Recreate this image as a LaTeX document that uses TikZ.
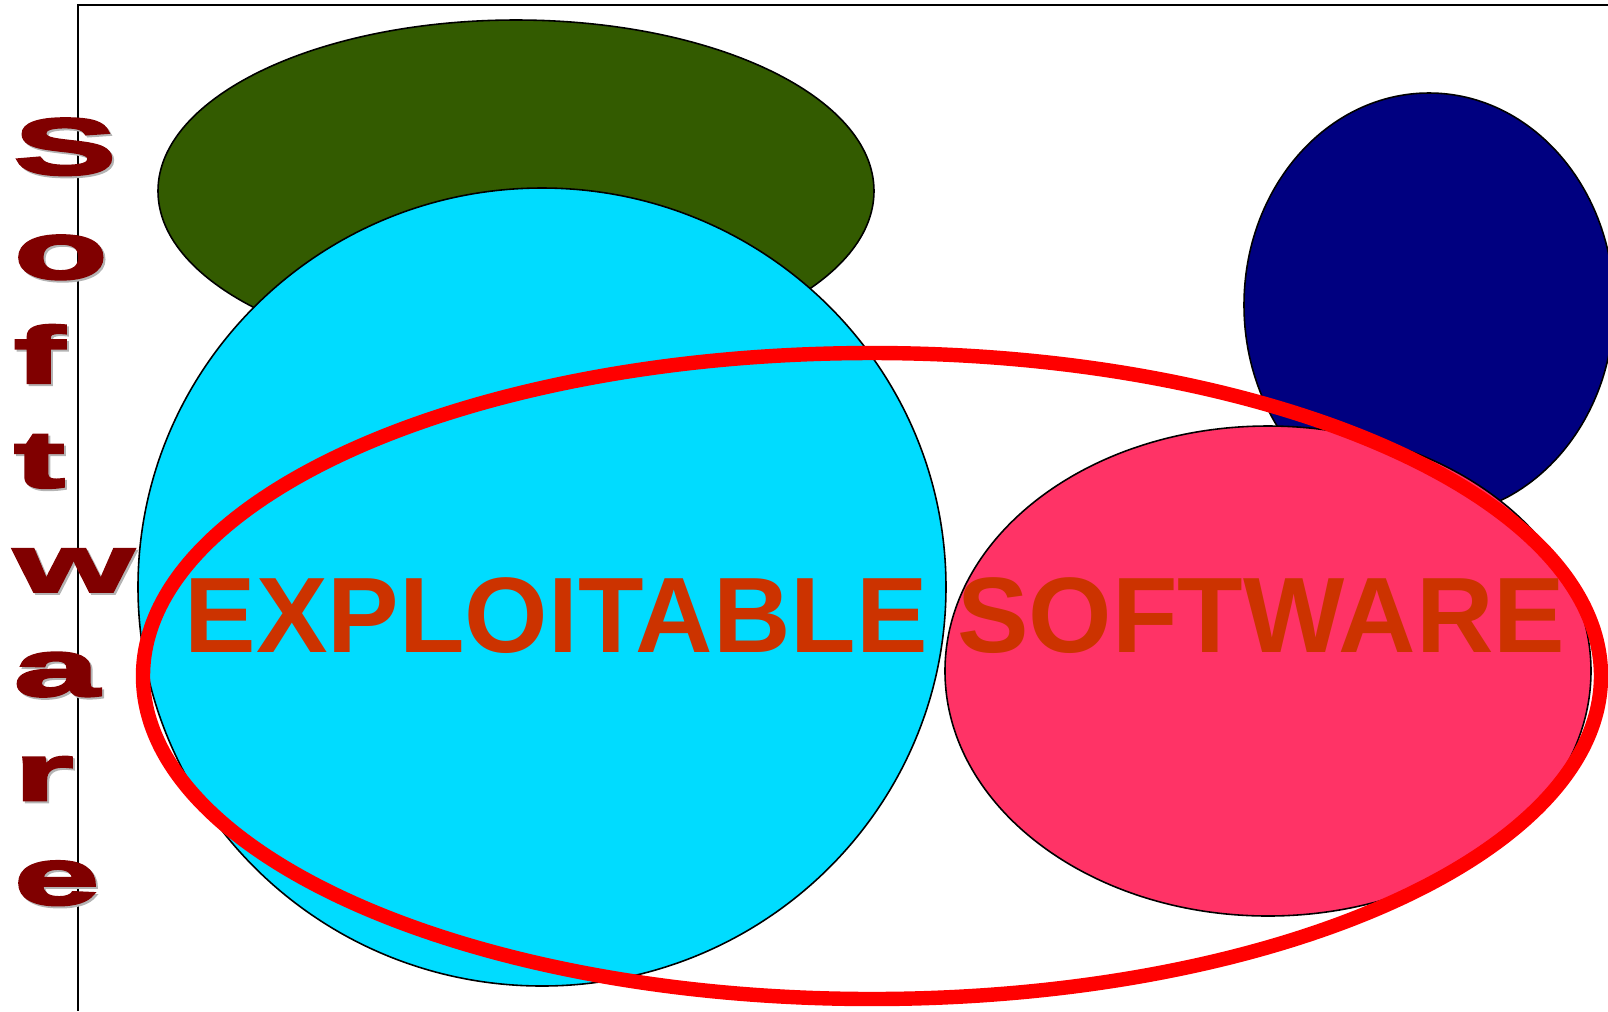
\documentclass[tikz,border=0pt]{standalone}
\usepackage{fontspec}
\setmainfont{Liberation Sans}
\newfontfamily\wordartfont{Liberation Sans}[UprightFont=* Bold, FakeBold=4, FakeStretch=1.95]
\definecolor{leafgreen}{HTML}{335B00}
\definecolor{skycyan}{HTML}{00DCFF}
\definecolor{deepnavy}{HTML}{000080}
\definecolor{rosepink}{HTML}{FF3366}
\definecolor{rustred}{HTML}{CC3300}
\definecolor{wordred}{HTML}{800000}
\definecolor{wordshadow}{HTML}{B4B4B4}

\begin{document}
\begin{tikzpicture}[x=0.01cm, y=-0.01cm,
  outline/.style={draw=black, line width=0.45pt},
  letter/.style={anchor=base west, inner sep=0pt, font=\wordartfont\fontsize{22.5}{24}\selectfont}]
\useasboundingbox (0,0) rectangle (1608,1011);

% Rahmen
\draw[line width=0.45pt] (1608,5) -- (78,5) -- (78,1011);

% Ellipsen
\filldraw[outline, fill=leafgreen] (516,191) ellipse [x radius=358, y radius=171];
\filldraw[outline, fill=skycyan] (542,587) ellipse [x radius=404, y radius=399];
\filldraw[outline, fill=deepnavy] (1429,305) ellipse [x radius=185, y radius=212];
\filldraw[outline, fill=rosepink] (1268,671) ellipse [x radius=323, y radius=245];
\draw[red, line width=4.1pt] (872,676) ellipse [x radius=729, y radius=323];

% Schriftzug
\node[anchor=base, inner sep=0pt, text=rustred, font=\bfseries\fontsize{30.5}{36}\selectfont]
  (exploitable) at (875,652) {EXPLOITABLE SOFTWARE};

% senkrechtes Wort links
\foreach \ch [count=\i from 0] in {S,o,f,t,w,a,r,e} {
  \node[letter, text=wordshadow] (shadow-\i) at (15,176+104.3*\i) {\ch};
  \node[letter, text=wordred] (letter-\i) at (13,174+104.3*\i) {\ch};
}
\end{tikzpicture}
\end{document}
